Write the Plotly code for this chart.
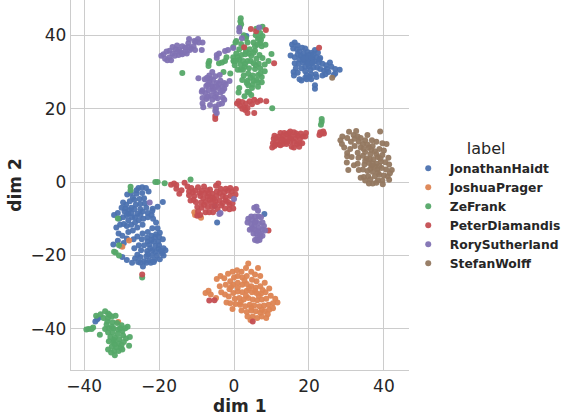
import plotly.graph_objects as go

# Values, per speaker, as (dim 1, dim 2)
haidt_upper = [(15.5,37.5),(16.2,38),(17,37.2),(15.8,36.4),(16.8,36.2),(17.5,35.6),(18.2,36.6),(19,36.4),(19.6,35.4),(18.6,35),(17.8,34.4),(17,34.8),(15.1,34.5),(16.2,34),(17.4,33.4),(18.4,33.8),(19.2,34.2),(20,34.6),(20.8,35.2),(21.6,36),(22.4,35.2),(23,33.8),(22,34),(21,33.6),(20.2,33.2),(19.4,32.8),(18.4,32.6),(17.2,32.2),(16.2,32.4),(20.6,32.4),(21.6,32.8),(22.6,32.6),(23.6,32.2),(24.6,31.8),(25.6,32.6),(26,31.4),(27,30.8),(27,29.6),(28.2,30.6),(26.6,29.2),(25.2,30),(24,30.4),(23,30.8),(22.2,31.2),(21.2,31.2),(20,31.4),(19,31.4),(18,31),(16.5,31),(15.9,30),(17,29.8),(16,29),(19.4,29.2),(20.6,29.4),(21.8,29.4),(23.6,29),(24.4,29.4),(19,28.4),(20.2,28.6),(22,28.6),(17.5,28),(18,27.7),(19.4,28),(20.6,28),(21.6,26.4),(21.6,25.4),(18.6,33.2),(19.8,32.2),(21,32.6),(20.4,30.6),(22.8,33.4),(24.8,30.8),(18.8,33.6),(19.8,33.8),(20.6,34),(21.2,34.8),(19,30.2)]
haidt_lower = [(-25.5,-1.6),(-24.5,-1.4),(-23.5,-1.6),(-26,-2.2),(-22.8,-2.6),(-19,-5.4),(-20.4,-6.7),(-21.7,-7.3),(-28.5,-3.4),(-27.5,-3),(-26,-3.2),(-24.5,-3),(-24,-4.4),(-25.2,-4.6),(-26.6,-4.8),(-27.8,-5.2),(-28.8,-6.2),(-30,-7),(-29.2,-8),(-31,-8.4),(-32,-9),(-30.6,-10),(-29.6,-9.6),(-28.2,-8.6),(-27.4,-7),(-26.2,-6.2),(-25,-6),(-23.8,-5.8),(-23.4,-7),(-23,-8.4),(-24.4,-8),(-25.8,-8.6),(-27.2,-9.6),(-28.2,-10.4),(-29.4,-11.4),(-30.4,-11.6),(-28.6,-12),(-27.4,-11.6),(-26.4,-11),(-25.4,-10.4),(-24.2,-10),(-23,-9.6),(-22,-9),(-21.8,-7.8),(-28,-7.6),(-29,-7.2),(-28.6,-9),(-27.4,-8.4),(-26.4,-9.6),(-25,-9),(-29.6,-5.6),(-27,-4.2),(-25,-7.4),(-26.6,-7.4),(-24.4,-11.6),(-25.8,-12.4),(-27,-13.2),(-28.2,-13.6),(-31.4,-12.4),(-30.8,-14),(-29.8,-14.6),(-28.6,-15.4),(-31,-16),(-32.2,-17),(-30.2,-17.4),(-29.4,-16.6),(-21.6,-10),(-20.8,-11),(-20.4,-12.6),(-21.8,-12.6),(-23,-13.6),(-24.4,-14),(-25.8,-14.8),(-26.8,-15.6),(-24.6,-15.6),(-23.2,-15.2),(-22,-14.6),(-20.8,-14.2),(-19.8,-13.8),(-19,-15.6),(-20.2,-16.2),(-21.4,-16.2),(-22.6,-17),(-24,-17.2),(-25.4,-17.2),(-26.6,-18),(-24.8,-18.6),(-23.2,-18.8),(-21.8,-18.6),(-20.2,-18.2),(-18.8,-18),(-18.3,-18.6),(-19.2,-19.4),(-20.6,-20),(-22,-20),(-23.4,-20.2),(-25,-20.4),(-26.4,-20.8),(-25.8,-19.8),(-18.8,-20),(-19.8,-21),(-21.2,-21.2),(-22.6,-21.4),(-24,-21.6),(-27.2,-22),(-28.6,-21.2),(-29.8,-20.4),(-25,-22),(-23.4,-22),(-25.6,-21.8),(-22.2,-22),(-21.4,-21.8),(-24.3,-23),(-21,-15),(-20,-15),(-22,-15.8),(-23,-16.2),(-21,-17.4),(-20,-17.2),(-22.4,-18),(-19.6,-18.8),(-21,-19),(-23,-19.6),(-5.2,-6.5),(-4.5,-11),(8.1,-8.7)]
haidt_other = [(-37,-38),(-36.5,-37.4),(-36.2,-37),(3.3,39.8)]

prager_main = [(-7.6,-30.2),(-6.8,-29.6),(-6.2,-30.6),(-4.6,-26.4),(-3.6,-25.6),(-2.6,-26.2),(-1.6,-25),(-0.4,-24.4),(0.8,-24),(2,-24.4),(3.2,-23.4),(3.8,-22.2),(4.6,-24.4),(5.6,-25.2),(7,-25.6),(6,-27),(4.8,-26.6),(3.4,-25.6),(2.2,-26),(1,-25.6),(0,-26),(-1,-27),(-2.2,-28),(-3.8,-28.4),(-3.4,-30),(-4.8,-31.6),(-2.4,-30.6),(-1.2,-29.2),(-0.2,-28),(1,-27.4),(2.2,-28),(3.4,-27.8),(4.6,-28.4),(5.8,-28.8),(7,-28.4),(8.2,-27.4),(9.4,-29),(8.4,-30),(7.2,-30.4),(6,-30.2),(4.8,-30),(3.4,-29.6),(2.2,-30),(1,-29.8),(-0.2,-30.2),(-1.4,-31.2),(0.2,-31.8),(1.4,-31.6),(2.6,-32),(3.8,-31.6),(5,-32),(6.2,-32.2),(7.4,-32),(8.6,-31.8),(9.8,-31),(11,-31.8),(11.6,-32.8),(10.4,-33),(9.2,-33.4),(8,-33.6),(6.8,-33.8),(5.4,-33.6),(4.2,-33.4),(3,-33.8),(1.6,-33.4),(0.4,-33.2),(-1,-33),(-2,-32.8),(2,-35),(3.4,-35.4),(4.6,-35),(5.8,-35.2),(7,-35.6),(8.2,-35.2),(9.4,-34.8),(10.4,-34.4),(5,-36.6),(6.2,-37),(7.4,-36.6),(8.6,-37),(9,-36),(4.4,-37.6),(3.6,-36.6),(-0.4,-34.6),(-0.8,-28.6),(6.4,-23.4),(3.2,-31),(5.6,-29.6),(1,-28.8),(2.8,-26.8),(4,-29),(7.6,-29.4),(6.6,-31),(1.8,-32.8),(4.6,-34.2),(7.4,-34.8)]
prager_other = [(-30.9,-38.1),(-28,-15.9),(-29.8,-17.6),(-10.6,-8.2),(-10.4,-9),(-8.8,-9.7)]

frank_top = [(1.8,44.6),(1.7,43.8),(1.9,43),(1.6,42.2),(6,41.8),(7.6,42.3),(7,40.6),(5.8,40),(6.4,39),(7.2,38.7),(7,37.8),(5.2,38),(3.6,38),(1.9,37.6),(0.4,38),(-0.2,36.8),(1.4,36.2),(2.8,36.6),(4.2,36.2),(5.6,35.8),(7.4,37),(8.4,37.4),(10,34.9),(-0.1,33),(0.6,35),(-0.2,34),(1.4,33.4),(3,34.8),(4.6,34.4),(6,33.6),(7.6,33.8),(-0.1,33),(0.2,31.8),(1.8,32),(3.6,33),(5.2,32.4),(6.6,32.2),(8.2,32),(9.2,33),(1,30.6),(2.4,30.6),(4,31),(5.6,30.8),(7,31),(8.2,30.2),(2.6,29),(3.8,29.6),(5,29),(6.4,29.2),(7.4,28.6),(3.6,27.6),(5.2,27.6),(6.4,27.2),(7.4,27.2),(2.2,27.8),(3.8,26.4),(4.8,25.6),(6.4,26),(1.4,25.6),(1.2,24.4),(3.6,24.6),(2.8,23.4),(4.6,23.7),(4,24.4),(10.2,20.1)]
frank_xtra_top = [(3.2,39.2),(2.6,40),(0.6,38.4),(1,34),(2.4,33),(2.8,31.4),(0.6,33),(3.4,27),(4.4,28.4),(6,27.8),(5,26.6),(7,29.6),(5.8,31.8),(4.4,33),(3.2,35.6),(5.6,37),(6.2,37.4),(6.8,39.2),(7.6,39.8),(4,35),(2,34.6),(3,32.2),(1.8,30.6),(6.8,34.6),(5.2,35.2)]
frank_left = [(-6.8,32.4),(-6.8,31.6),(-6.6,33),(-4,32.4),(-3.2,32.6),(-2.4,33),(-2,34),(-13.8,29.7),(-2.8,30),(-1,29.6)]
frank_low = [(23.4,17.2),(23.4,16.4),(23.2,15.6),(-27.6,-1.3),(-27.6,-2.2),(-20.4,0),(-21,0),(-18.5,-0.3),(-31,-9.9),(-32,-19),(-31.6,-19.2),(-30.7,-17.2),(-30.7,-20),(-24.5,-26),(-11.6,0.7)]
frank_bottom = [(-39.4,-40.2),(-38.8,-40),(-38,-40),(-37.6,-39.6),(-36.8,-36.4),(-35.6,-36),(-34.4,-35.2),(-33.6,-35.8),(-34.8,-37),(-33.6,-37),(-32.6,-36.6),(-31.6,-36.4),(-33.8,-38),(-32.4,-38.2),(-31.2,-38.4),(-30,-39),(-29,-39.8),(-28.4,-39.4),(-34.4,-40),(-33.4,-39.8),(-32.2,-39.8),(-31,-40.2),(-29.8,-40.6),(-35.8,-41.6),(-33.6,-41),(-32.4,-41),(-31,-41.4),(-29.6,-41.8),(-33,-42.2),(-31.8,-42.4),(-30.6,-42.8),(-28.8,-42.6),(-27.8,-42.2),(-33.4,-43.4),(-32.2,-43.6),(-30.8,-44),(-29.4,-43.6),(-28,-44.6),(-32.6,-44.8),(-31.4,-45),(-30.2,-45.2),(-33.6,-45.6),(-32,-46),(-30.8,-46),(-29.8,-45.6),(-32.8,-46.4),(-31.8,-47.2),(-32.6,-39.4),(-31.8,-44.2),(-33.2,-36.2),(-34,-38.8),(-30.4,-39.8),(-32,-43),(-30,-44.4)]

diamandis_left = [(-16.8,-0.7),(-16,-0.4),(-15.4,-0.8),(-15.4,-1.8),(-14.6,-3.2),(-13.2,-0.2),(-12.4,-1.2),(-11.4,-1.6),(-10.4,-2.4),(-10.6,-3.8),(-9.2,-3),(-8,-1.2),(-7.8,-3),(-6.4,-2),(-5.8,-3.2),(-4.8,-1),(-4.2,-0.4),(-3.6,-1.8),(-2.6,-2.8),(-1.6,-2.4),(-0.6,-2.6),(-9,-3.8),(-8.2,-4.4),(-7,-4),(-5.8,-4.2),(-4.6,-3.8),(-3.8,-3),(-3,-3.8),(-2.2,-5),(-3.8,-5),(-5,-5.2),(-6.2,-5.6),(-7.6,-5.4),(-8.8,-5.6),(-10.2,-5.4),(-12,-3.6),(-14,-2.2),(-9.8,-6.8),(-8.6,-7),(-7,-6.8),(-5.8,-6.8),(-4.8,-6.2),(-3.4,-6.4),(-2.4,-7.2),(-1.2,-6.2),(-0.4,-5.8),(-7.6,-8.2),(-6.6,-8.2),(-5.6,-8.2),(-4.4,-7.4),(-9.6,-8),(-5.4,-4.6),(-6.8,-3.2),(-2.2,-1.8),(-1,-3.8),(-2.2,-4.2),(-1.2,-7.4),(-0.2,-7.2),(-9.8,-9.2),(-9,-9),(0.5,-1.9),(-11,-2.8),(-12,-2.6),(-9.6,-1.4),(-8.6,-2.4),(-7.2,-2.2),(-4.6,-2.6),(-3,-5.8),(-1.6,-5.4),(-6.6,-4.8),(-8,-6.2),(-10.8,-4.8),(-11.6,-5),(0.4,-3.4),(-1,-1.6)]
diamandis_mid = [(10.4,10.6),(10.6,11.8),(10.8,12.6),(11.2,12),(11.6,11),(12,12.4),(12.4,13.4),(12.8,11.8),(13.4,13.4),(13.4,11.2),(14,10.4),(14.2,12),(14.6,13.4),(15,11),(15.4,12.4),(16,13.6),(16.4,11.8),(16.8,10.4),(17.4,9.6),(17.6,11.8),(18.2,10.6),(18.4,12.4),(19.2,13.4),(19,12.4),(13,10.4),(12,10.2),(11,10.2),(12.4,10),(10.8,9.8),(10.2,9.4),(15.4,9.6),(16,9.4),(17.4,10.6),(17,12.6),(14,13),(13,12.6),(15,12),(16,11),(15,13.8),(17.8,13.2),(16.6,13.2),(14.2,11),(12.6,11.4),(22.8,12.8),(23.4,13.2),(24,13.2),(23.8,13.8),(23,13.6)]
diamandis_top = [(0.8,21.4),(1.2,22),(1.6,20.8),(2.2,21.8),(2.8,20.4),(3.2,21.4),(3.6,20.2),(4.2,22),(4.8,21.2),(5.4,22.4),(6.2,21.8),(7,22.2),(8.6,22),(3,19.6),(2.2,20),(3.6,18.8),(4.5,41.7),(5.9,41.1),(8.5,41.4),(2.7,36.7),(10.7,32.4),(22.7,36.6),(5.4,18.8)]
diamandis_low = [(-5,18),(-5,17.2),(-24.5,-25.2),(-6.6,-32.3),(-5.2,-32.2),(5,-38),(9.2,-13.2)]

sutherland_band = [(-19.4,34.4),(-18.8,34.8),(-18.4,33.6),(-17.8,33.2),(-17.2,34),(-18,35.6),(-17.2,35.8),(-16.4,35),(-15.6,36.2),(-16.4,36.8),(-15.2,37.2),(-14.6,36),(-14,35.2),(-13.8,37),(-13,36.6),(-12.6,35),(-12.2,37.8),(-11.4,36.4),(-10.8,37),(-10.2,38.2),(-10.4,36),(-9.6,39),(-8.4,38),(-9.4,38),(-10.6,38.4),(-12,39),(-11.8,36),(-13.8,34.8),(-14.8,34.6),(-15.8,34.4),(-16.8,33.2),(-13,35.6),(-8.6,36),(-15,35.6),(-12.2,36.8)]
sutherland_center = [(-4.6,33.8),(-4.6,34.6),(-4,35),(-1.6,36),(-5.8,26),(-6.6,27.4),(-7.4,26.2),(-7.8,28),(-6.6,29),(-5.8,30),(-5,28.8),(-3.8,29.2),(-3.6,27.6),(-4.6,27),(-5.6,27.8),(-8.4,25),(-6.8,25),(-5.6,25.4),(-4.2,25.6),(-3.2,26),(-2.6,25.4),(-2.6,27),(-7.6,24.2),(-6.2,23.6),(-4.8,24),(-3.6,24.4),(-1.2,27.5),(-2.2,26.6),(-7.4,22.6),(-5.8,22.4),(-4.4,22.8),(-3,23),(-2.6,22.4),(-8.6,24.6),(-9.5,28.3),(-8.4,22.9),(-8.4,21.4),(-8.2,20.4),(-6.4,21),(-5,20.6),(-4.8,20),(-4.6,18.8),(-5,19.4),(-4,21.2),(-5.4,24.8),(-4,26.8),(-7,23.2),(-6.4,28.2),(-3,24.8),(-3.2,21.4),(-6,26.4),(-7,26.6),(-4.8,26),(-7.2,28.4),(-5,23.2)]
sutherland_lower = [(5.4,-7),(6,-6.7),(6.4,-7.8),(5.6,-9.4),(4.6,-9.4),(3.8,-10),(3.6,-11),(5.8,-10.6),(6.6,-9.4),(7.2,-9.6),(7.6,-11),(8,-12),(6.6,-11.2),(5.4,-12),(4.8,-12.6),(5.6,-13),(6.6,-12.6),(7.6,-13),(8.3,-13.2),(6,-14),(7,-14.2),(5.2,-14),(6.2,-15.2),(7,-15),(5.6,-15.8),(6.2,-16),(6.8,-15.8),(4.6,-11.4),(4.2,-13),(7.6,-14.6),(4.8,-10.2),(5.6,-11),(6.4,-13.4)]
sutherland_other = [(-22.5,-5.6),(0,-4.6),(-3.6,-8.4),(-3.9,-8.7),(6.7,42.1),(1.4,42),(1.4,41),(2.1,39.2),(-0.2,36.5),(-2.4,35.7)]

wolff_main = [(28.9,12.4),(28.4,11.4),(28.8,10.4),(29.4,9.4),(30.7,13.7),(30.2,12),(31.2,11),(31.9,12.8),(32.6,13.9),(33,12.4),(33.3,11),(32.2,9.8),(31,9),(30.2,7),(30.2,7.9),(31.4,6.8),(30.1,5.3),(32,4.6),(30.5,3.3),(33.3,3.3),(33,5),(33.2,6.6),(33,8),(33.8,9.4),(34.4,10.4),(35,11.4),(35.6,12.8),(36.8,11.4),(38,11),(39,13.8),(39.6,10.6),(40.7,10.4),(37,9.8),(36,9.4),(35,8.2),(34.4,7.2),(35.4,6.4),(36.4,7.6),(37.6,8.4),(38.8,9),(40,8.6),(39.6,7.4),(38.4,6.8),(37.2,6.2),(36,5.2),(34.8,4.8),(34.4,3.4),(35.6,3),(36.8,4.4),(38,5),(39.2,5.6),(40.4,5.4),(41.2,6.6),(41.4,4.8),(42.1,3.3),(41.6,2.4),(40.6,3.4),(39.4,3.8),(38.2,3.4),(37,2.8),(35.8,1.6),(34.6,1.4),(36.4,0.8),(37.6,1.6),(38.8,2),(40,1.8),(41,1.6),(41.4,0.6),(39.6,0.4),(38.4,0.4),(37,-0.4),(36,-0.4),(35,0.4),(33.8,1.2),(39.7,-0.6),(38,-0.2),(32.2,11.8),(33.8,12),(34.6,9),(35.6,10.2),(36.6,8.8),(38,7.6),(35,5.8),(36.4,3.6),(37.6,4.2),(38.8,4.4),(36.2,6.2),(37,5),(38.4,2.6),(39,6.4)]
wolff_other = [(26.2,28.4)]

jonathan = haidt_upper + haidt_lower + haidt_other
joshua = prager_main + prager_other
zefrank = frank_top + frank_xtra_top + frank_left + frank_low + frank_bottom
peter = diamandis_left + diamandis_mid + diamandis_top + diamandis_low
rory = sutherland_band + sutherland_center + sutherland_lower + sutherland_other
stefan = wolff_main + wolff_other

series_names = ["JonathanHaidt", "JoshuaPrager", "ZeFrank", "PeterDiamandis", "RorySutherland", "StefanWolff"]
series_points = [jonathan, joshua, zefrank, peter, rory, stefan]
series_colors = ["#4C72B0", "#DD8452", "#55A868", "#C44E52", "#8172B3", "#937860"]
tick_values_x = [-40, -20, 0, 20, 40]
tick_values_y = [-40, -20, 0, 20, 40]
tick_labels_x = ["−40", "−20", "0", "20", "40"]
tick_labels_y = ["−40", "−20", "0", "20", "40"]

INK = "#262626"
GRID = "#cccccc"
FONT = "DejaVu Sans"

fig = go.Figure()
for name, pts, color in zip(series_names, series_points, series_colors):
    fig.add_trace(go.Scatter(
        x=[p[0] for p in pts], y=[p[1] for p in pts], mode="markers", name=name,
        marker=dict(size=6, color=color, opacity=0.95, line=dict(width=0)),
    ))

axis_common = dict(
    showgrid=True, gridcolor=GRID, gridwidth=1.3, zeroline=False,
    showline=True, linecolor=GRID, linewidth=1.3, ticks="",
    tickfont=dict(family=FONT, size=17, color=INK), automargin=False,
)
fig.update_xaxes(axis_common, range=[-43.5, 46.6], tickvals=tick_values_x, ticktext=tick_labels_x,
                 domain=[0, 339 / 495],
                 title=dict(text="<b>dim 1</b>", font=dict(family=FONT, size=17, color=INK), standoff=4))
fig.update_yaxes(axis_common, range=[-51.2, 49.6], tickvals=tick_values_y, ticktext=tick_labels_y,
                 title=dict(text="<b>dim 2</b>", font=dict(family=FONT, size=17, color=INK), standoff=4))

fig.update_layout(
    width=566, height=417, margin=dict(l=71, r=0, t=0, b=47),
    paper_bgcolor="white", plot_bgcolor="white",
    font=dict(family=FONT, color=INK),
    legend=dict(
        x=0.681, y=0.6405, xanchor="left", yanchor="top", itemwidth=33,
        font=dict(family=FONT, size=12.3, color=INK, weight="bold"),
        title=dict(text="label", side="top center", font=dict(family=FONT, size=16, color=INK, weight="normal")),
        bgcolor="rgba(0,0,0,0)", itemclick=False, itemdoubleclick=False,
    ),
)

fig.write_html("out.html", post_script="document.body.style.margin='0';", config={"displayModeBar": False})
